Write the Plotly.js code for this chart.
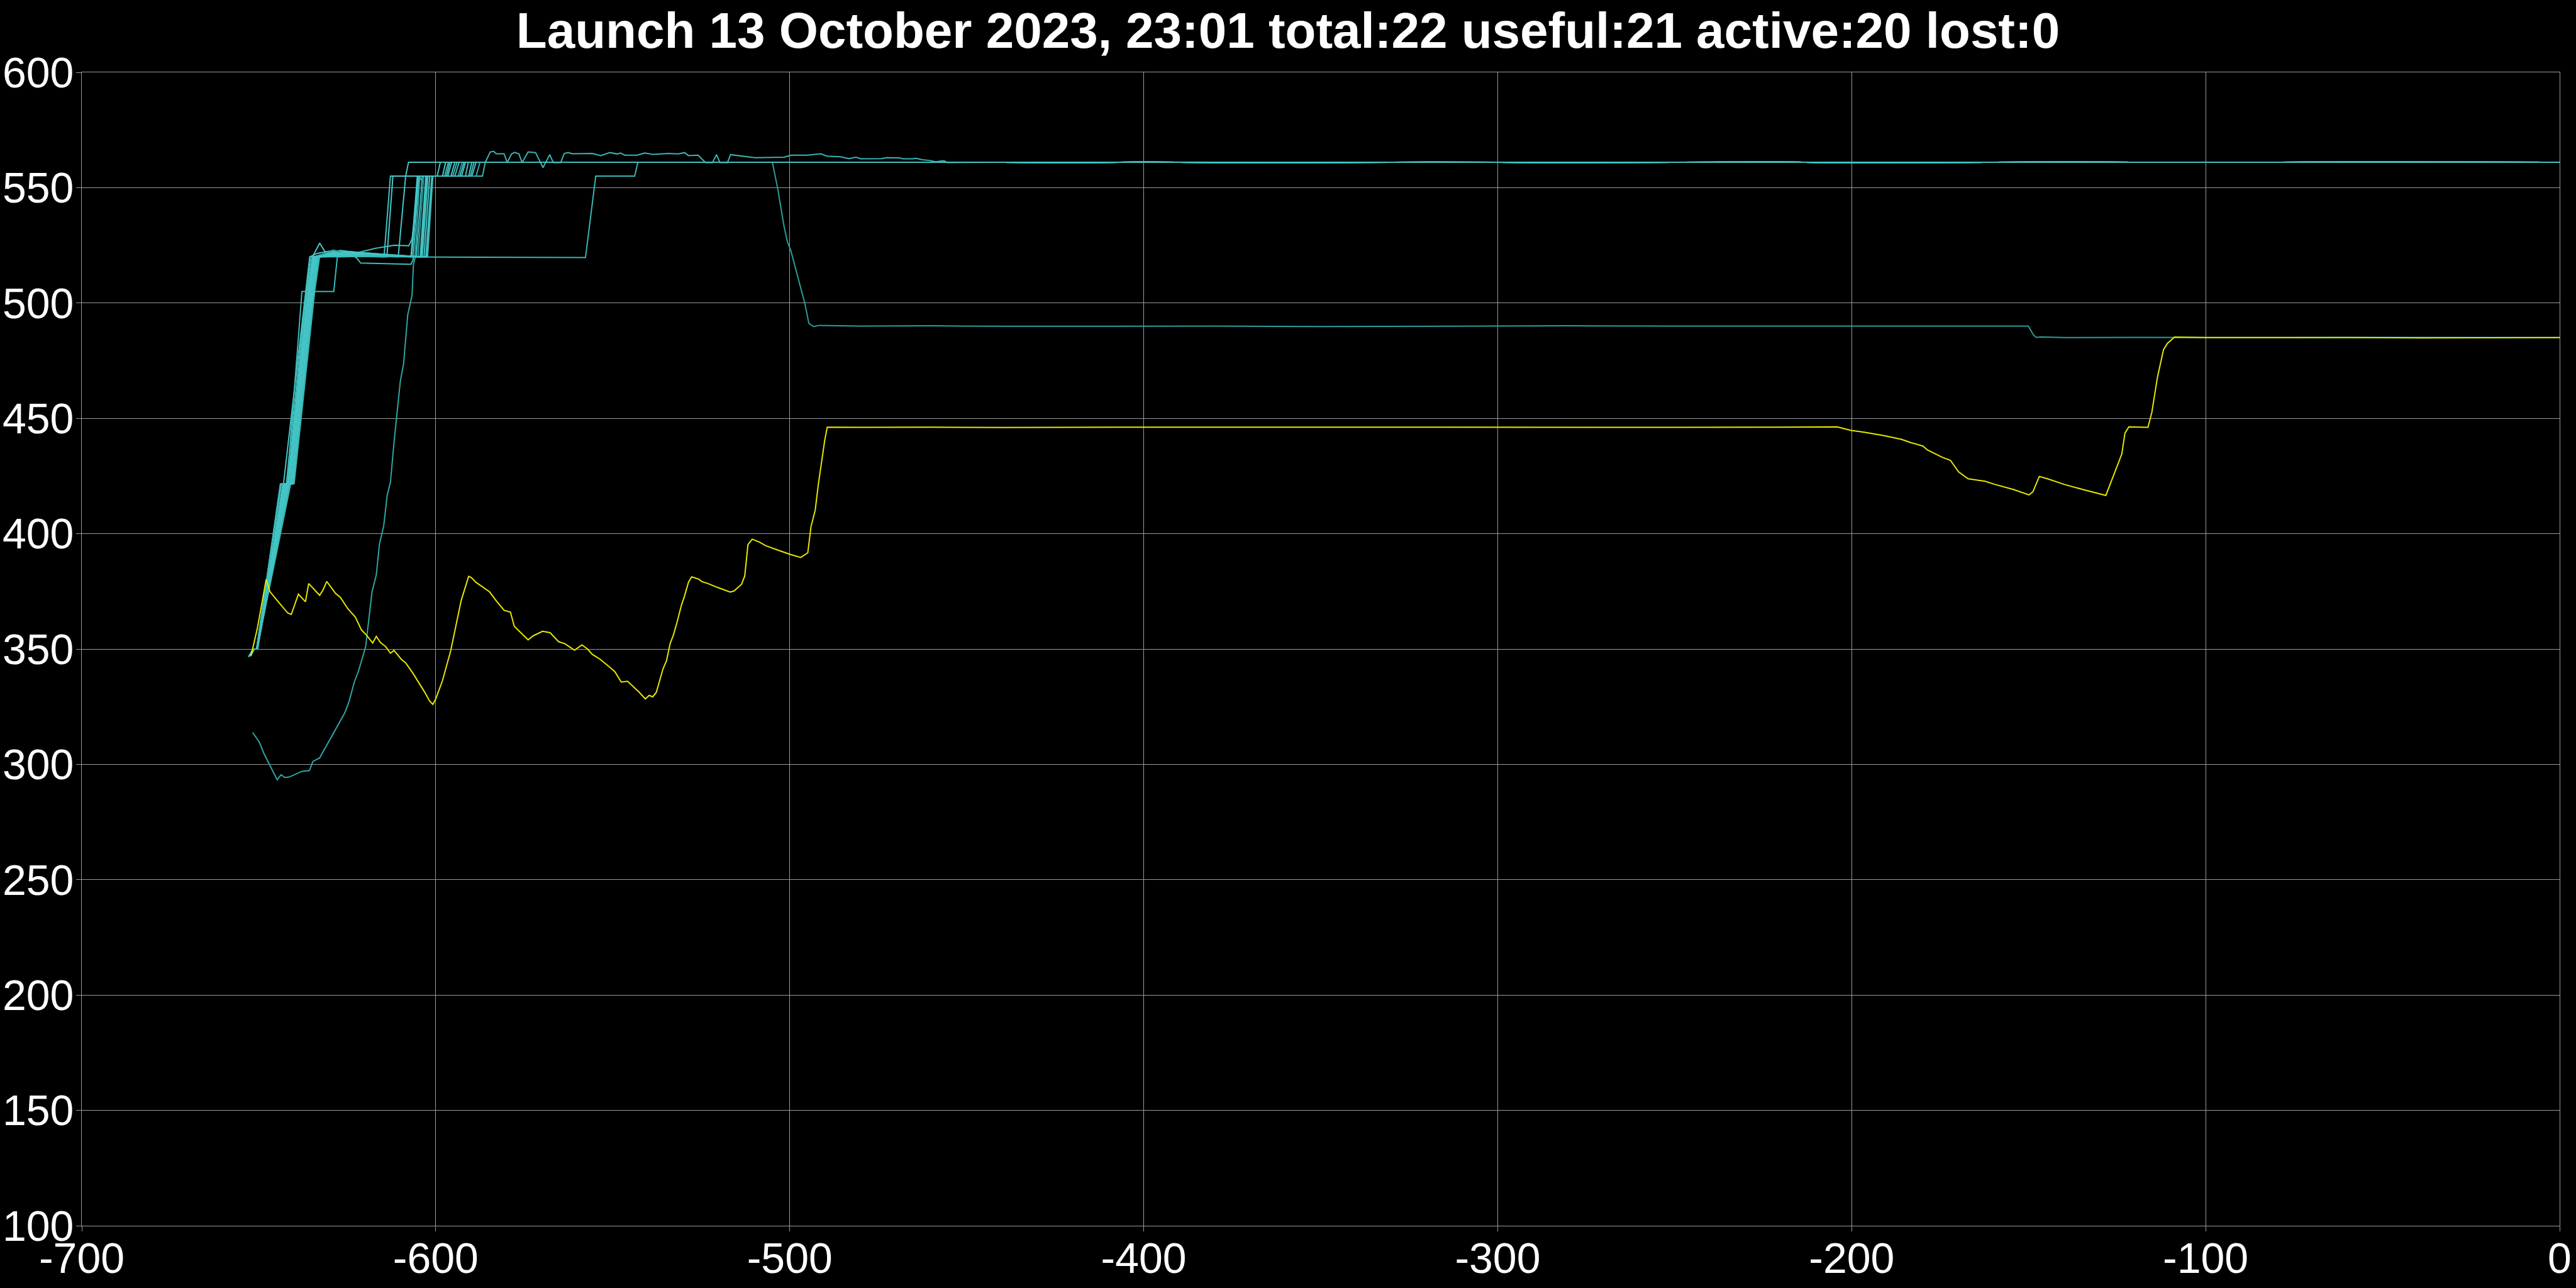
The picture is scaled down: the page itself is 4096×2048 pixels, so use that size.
<!DOCTYPE html>
<html>
<head>
<meta charset="utf-8">
<script src="https://cdn.plot.ly/plotly-3.0.1.min.js"></script>
<style>html,body{margin:0;padding:0;background:#000;}#chart{width:4096px;height:2048px;}</style>
</head>
<body>
<div id="chart"></div>
<script>
// ---- Data (time in s, value) ----
const titleText = "Launch 13 October 2023, 23:01 total:22 useful:21 active:20 lost:0";
const xTicks = [-700, -600, -500, -400, -300, -200, -100, 0];
const yTicks = [100, 150, 200, 250, 300, 350, 400, 450, 500, 550, 600];

// shared tail of the 561 plateau
const plateauX = [-440,-420,-400,-380,-360,-340,-320,-300,-280,-260,-240,-220,-200,-180,-160,-140,-120,-100,-80,-60,-40,-20,0];
const plateauY = [561,560.9,561.1,561,560.8,561,561.1,561,560.9,561,561,561.1,560.9,561,561,561.1,561,560.9,561,561.1,561,561,561];

const c01x = [-652.9,-651.6,-650.6,-643.9,-643.0,-637.0,-635.6,-633.5,-630.0,-625.0,-618.0,-610.6,-608.5,-607.7];
const c01y = [346.5,350,350,421.5,421.7,500,520,521.5,522.5,521.5,520.5,520,555,561];
const c02x = [-652.5,-651.4,-650.6,-643.6,-642.2,-636.6,-635.2,-628.0,-620.0,-614.6,-612.8,-599.6,-598.7];
const c02y = [347,350,350,421.6,421.7,505,520,520.5,520.2,520,555,555,561];
const c03x = [-652.8,-651.5,-650.4,-643.2,-641.8,-636.3,-634.8,-632.8,-631.3,-626.0,-613.8,-612.1,-598.1,-597.2];
const c03y = [347,350,350,421.4,421.7,505,520,526,522.3,520.5,520,555,555,561];
const c04x = [-652.6,-651.5,-650.5,-643.0,-641.5,-636.0,-634.6,-630.0,-623.5,-622.4,-621.2,-614.0,-607.0,-606.4,-604.8,-597.5,-596.4];
const c04y = [347,350,350,421.5,421.7,505,520,522,520.5,519.6,517.3,517.1,516.8,518.7,555,555,561];
const c05x = [-652.4,-651.3,-650.5,-642.8,-641.2,-635.8,-634.4,-628.0,-622.0,-617.1,-611.8,-607.6,-606.7,-604.4,-596.6,-595.5];
const c05y = [347,350,350,421.5,421.7,505,520,521.5,521.8,523.7,525,524.8,527.8,555,555,561];
const c06x = [-652.7,-651.5,-650.6,-642.6,-641.0,-635.7,-634.2,-627.0,-620.0,-607.0,-605.2,-595.7,-594.6];
const c06y = [347,350,350,421.5,421.7,505,520,522.8,521.5,520,555,555,561];
const c07x = [-652.3,-651.2,-650.3,-642.4,-640.9,-635.5,-634.0,-626.5,-605.5,-603.8,-594.6,-593.4];
const c07y = [347,350,350,421.5,421.7,505,520,522.5,520,555,555,561];
const c08x = [-652.6,-651.4,-650.5,-642.2,-640.8,-635.3,-633.8,-629,-624,-605.0,
  -603.4,-593.7,-592.5,-580,-560,-540,-520,-506.5,-504.9,-503.4,
  -501.6,-500.7,-499.7,-495.7,-494.6,-493.3,-491.5,-480,-460,-440,
  -420,-400,-380,-350,-320,-300,-280,-250,-220,-200,
  -180,-160,-152,-150.1,-148.6,-147.8,-146.5,-140,-120,-100,
  -80,-60,-40,-20,0];
const c08y = [347,350,350,421.5,421.7,505,520,523,521,520,
  555,555,561,561,561.1,560.9,561,561,561,549.6,
  533.2,526.8,522.8,499.6,491.2,489.8,490.3,490,490.1,489.9,
  490,490.1,490,489.8,490,490,490.1,490,489.9,490,
  490,490.1,490,490,486,485.1,485.3,485,485.1,485,
  485,485.1,485,485,485];
const c09x = [-652.5,-651.4,-650.4,-642.0,-640.7,-635.1,-633.6,-625.0,-604.4,-602.8,-592.7,-591.6];
const c09y = [347,350,350,421.5,421.7,505,520,522.3,520,555,555,561];
const c10x = [-652.6,-651.5,-650.6,-641.8,-640.6,-634.9,-633.4,-623.0,-603.8,-602.2,-591.6,-590.8];
const c10y = [347,350,350,421.5,421.7,505,520,521.5,520,555,555,561];
const c11x = [-652.4,-651.3,-650.4,-641.6,-640.5,-634.7,-633.2,-620.0,-603.3,-601.7,-590.7,-589.8];
const c11y = [347,350,350,421.5,421.7,505,520,521,520,555,555,561];
const c12x = [-652.7,-651.6,-650.6,-641.4,-640.3,-634.5,-633.1,-618.0,-602.8,-601.1,-589.8,-588.6];
const c12y = [347,350,350,421.5,421.7,505,520,521.2,520,555,555,561];
const c13x = [-652.5,-651.4,-650.5,-641.2,-640.2,-634.3,-633.0,-616.0,-602.3,-600.8,-586.8,-586.0,
  -584.6,-583.6,-582.9,-580.7,-579.8,-578.6,-577.7,-576.5,-575.6,-573.9,
  -571.8,-569.7,-567.8,-566.8,-564.7,-563.7,-562.6,-561.4,-555.8,-553.4,
  -550.8,-548.7,-547.8,-546.6,-543.1,-541.0,-538.6,-534.2,-531.5,-529.7,
  -528.6,-525.9,-523.8,-521.8,-520.7,-519.7,-517.6,-516.7,-509.9,-506.7,
  -501.6,-499.6,-495.1,-491.2,-489.5,-485.7,-483.3,-481.3,-479.9,-474.1,
  -472.7,-469.0,-468.0,-465.3,-464.3,-462.6,-460.5,-458.8,-456.5,-455.4];
const c13y = [347,350,350,421.5,421.7,505,520,521,520,555,555,561,
  565.5,565.7,564.7,564.7,560.9,564.6,565.3,564.6,560.9,565.5,
  565.2,558.7,564.3,560.9,560.9,564.8,565.2,564.7,564.8,563.9,
  565.2,564.6,565.0,564.1,564.1,565.0,564.4,564.8,564.6,565.2,
  563.9,564.1,560.9,560.9,564.3,560.9,560.9,564.3,563.0,563.0,
  563.2,564.1,564.1,564.7,563.7,563.4,562.6,563.2,562.5,562.6,
  563.0,562.9,562.5,562.5,562.7,562.1,561.8,561.2,561.7,560.9];
const c14x = [-651.7,-649.8,-648.5,-644.8,-643.7,-642.6,-641.4,-637.8,-635.7,-634.7,
  -632.8,-625.7,-624.5,-623.0,-621.8,-619.8,-618.0,-616.8,-615.9,-614.7,
  -613.7,-612.8,-611.8,-610.0,-609.1,-607.9,-606.7,-606.3,-605.8,-604.6,
  -603.5,-588.6,-587.5];
const c14y = [313.8,309.5,304.6,293.3,295.5,294.3,294.5,297.0,297.3,301.3,
  302.8,322.3,327.2,335.7,340.6,351.0,374.8,382.1,395.5,403.4,
  416.8,422.3,439.4,466.2,473.5,495.0,503.2,516.8,519.8,553,
  555,555,561];
const c15x = [-652.6,-651.5,-650.5,-641.0,-640.0,-634.2,-632.8,-620.0,-600.0,-580.0,-560.0,-557.7,-554.8,-543.8,-542.9];
const c15y = [347,350,350,421.5,421.7,505,520,520.2,519.9,519.8,519.7,519.7,555,555,561];
const c16x = [-652.7,-651.6,-650.6,-643.8,-642.0,-637.8,-628.8,-627.8,-615.0,-604.0,-602.5,-595.2,-594.0];
const c16y = [347,350,350,421.6,421.7,505,505,520,520.5,520,555,555,561];
const c17x = [-652.4,-651.3,-650.4,-642.9,-641.6,-635.9,-634.5,-624.0,-606.8,-605.0,-597.0,-596.0];
const c17y = [347,350,350,421.5,421.7,505,520,522,520,555,555,561];
const c18x = [-652.6,-651.5,-650.5,-642.3,-641.1,-635.4,-633.9,-622.0,-604.2,-602.6,-593.2,-592.0];
const c18y = [347,350,350,421.5,421.7,505,520,521.5,520,555,555,561];
const c19x = [-652.5,-651.4,-650.5,-641.5,-640.4,-634.6,-633.3,-619.0,-602.6,-601.0,-590.2,-589.2];
const c19y = [347,350,350,421.5,421.7,505,520,521,520,555,555,561];

const yelX = [-652.2,-650.4,-647.9,-646.8,-644.0,-641.8,-640.8,-638.8,-636.8,-635.9,
  -632.8,-631.9,-630.8,-628.3,-626.9,-624.8,-622.7,-621.0,-619.5,-617.8,
  -616.8,-615.6,-614.1,-612.8,-611.8,-609.7,-608.5,-606.4,-603.2,-601.7,
  -600.8,-600.0,-598.1,-595.8,-592.8,-591.8,-590.7,-589.9,-588.7,-584.8,
  -583.0,-580.7,-578.9,-577.8,-573.9,-572.4,-569.8,-567.7,-565.3,-563.5,
  -560.8,-558.7,-557.1,-555.8,-553.5,-550.3,-549.4,-547.6,-545.8,-542.6,
  -540.8,-539.7,-538.7,-537.7,-535.8,-534.8,-533.8,-532.9,-531.8,-530.6,
  -529.8,-528.6,-527.7,-525.7,-524.8,-523.1,-520.4,-516.8,-515.7,-513.6,
  -512.7,-511.8,-510.6,-508.6,-506.8,-503.2,-499.6,-496.9,-494.9,-494.0,
  -492.8,-491.9,-490.1,-489.4,
  -480,-460,-440,-400,-350,-300,-250,-220,
  -208.4,-204.1,-200.3,-196.2,-190.8,-186.0,-183.3,-179.9,-178.6,-174.5,
  -172.1,-169.8,-167.1,-162.3,-159.6,-154.2,-149.9,-148.8,-147.0,-144.7,
  -140.0,-134.6,-128.2,-125.7,-123.7,-122.8,-121.7,-116.3,-115.2,-113.6,
  -111.9,-110.8,-108.8,
  -100,-80,-60,-40,-20,0];
const yelY = [347,358.9,380.2,374.8,369.6,365.6,365.0,373.8,370.5,378.4,
  373.3,375.4,379.3,374.1,372.3,367.4,363.8,358.3,355.9,352.6,
  355.5,352.8,351.0,348.2,349.4,345.5,344.0,339.4,331.5,327.4,
  326.0,328.4,336.3,349.1,371.1,376.0,381.5,380.9,379.0,374.8,
  371.1,366.8,366.0,359.8,354.0,355.8,357.7,357.1,353.2,352.3,
  349.5,351.8,350.0,347.7,345.5,341.4,340.2,335.7,336.0,331.4,
  328.4,329.9,329.3,331.2,341.4,345.0,352.3,355.9,361.8,369.0,
  372.6,379.0,381.3,380.3,379.2,378.4,376.7,374.7,375.2,378.1,
  381.7,395.3,397.6,396.4,394.8,392.8,390.9,389.7,391.7,403.0,
  410.2,421.6,440.6,446.2,
  446.1,446.2,446.0,446.2,446.1,446.2,446.1,446.2,
  446.3,446.3,444.8,443.9,442.5,440.9,439.5,438.0,436.3,433.2,
  431.8,426.8,423.8,422.7,421.4,419.1,416.8,418.2,424.8,423.8,
  421.4,419.1,416.6,426.8,434.5,443.6,446.3,446.1,452.6,468.0,
  479.8,482.5,485.2,
  485,485.1,485,484.9,485,485];

// ---- Build traces ----
const cyanSeries = [
  [c01x,c01y,'#46c6c6',true],[c02x,c02y,'#42c2c2',true],[c03x,c03y,'#48c8c8',true],
  [c04x,c04y,'#3fbcbc',true],[c05x,c05y,'#44c4c4',true],[c06x,c06y,'#4acaca',true],
  [c07x,c07y,'#40c0c0',true],[c08x,c08y,'#2b9e9e',false],[c09x,c09y,'#45c5c5',true],
  [c10x,c10y,'#43c3c3',true],[c11x,c11y,'#48c8c8',true],[c12x,c12y,'#41c1c1',true],
  [c13x,c13y,'#3ab4b4',true],[c14x,c14y,'#2fa6a6',true],[c15x,c15y,'#3ab6b6',true],
  [c16x,c16y,'#3db9b9',true],[c17x,c17y,'#46c6c6',true],[c18x,c18y,'#44c4c4',true],
  [c19x,c19y,'#42c2c2',true]
];
const traces = cyanSeries.map(function(s){
  const xs = s[3] ? s[0].concat(plateauX) : s[0];
  const ys = s[3] ? s[1].concat(plateauY) : s[1];
  return {x: xs, y: ys, type: 'scatter', mode: 'lines', line: {color: s[2], width: 2}, hoverinfo: 'skip'};
});
traces.push({x: yelX, y: yelY, type: 'scatter', mode: 'lines', line: {color: '#e8e800', width: 2}, hoverinfo: 'skip'});

const gridCol = '#9a9a9a';
const tickFont = {family: 'Liberation Sans, Arial, sans-serif', size: 68, color: '#ffffff'};
const axisCommon = {
  showgrid: true, gridcolor: gridCol, gridwidth: 1,
  zeroline: false, showline: true, mirror: true, linecolor: gridCol, linewidth: 1,
  ticks: 'outside', ticklen: 8, tickcolor: gridCol, tickwidth: 1,
  tickfont: tickFont,
  fixedrange: true
};
const layout = {
  width: 4096, height: 2048,
  paper_bgcolor: '#000000', plot_bgcolor: '#000000',
  showlegend: false,
  margin: {l: 130, r: 26, t: 115, b: 99, pad: 0},
  title: {text: '<b>' + titleText + '</b>', x: 0.5, xanchor: 'center', y: 0.9768, yanchor: 'middle',
          font: {family: 'Liberation Sans, Arial, sans-serif', size: 80, color: '#ffffff'}},
  xaxis: Object.assign({}, axisCommon, {range: [-700, 0], tickvals: xTicks, ticktext: xTicks.map(String), ticklabelstandoff: -16}),
  yaxis: Object.assign({}, axisCommon, {range: [100, 600], tickvals: yTicks, ticktext: yTicks.map(String), ticklabelstandoff: -10})
};
Plotly.newPlot('chart', traces, layout, {staticPlot: true, displayModeBar: false});
</script>
</body>
</html>
